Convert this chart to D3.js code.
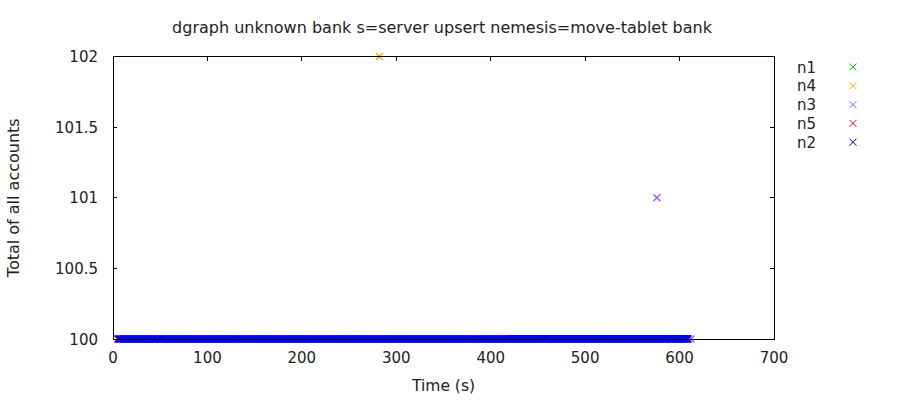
<!DOCTYPE html>
<html>
<head>
<meta charset="utf-8">
<script src="https://cdn.jsdelivr.net/npm/d3@7"></script>
<style>
  body { margin: 0; background: #fff; }
  text { font-family: "DejaVu Sans", sans-serif; fill: #222; }
</style>
</head>
<body>
<div id="chart"></div>
<script>
// series data: [time (s), total]
const n1Points = [[120, 100], [260, 100], [410, 100], [560, 100]];
const n4Points = [[282, 102], [90, 100], [330, 100], [470, 100]];
const n3Points = [[576, 101], [200, 100], [440, 100], [612, 100]];
const n5Times = [5, 18, 39, 43.5, 101, 146, 150, 172, 184.5, 222, 232, 262, 276, 373, 376, 493, 507, 510, 545];
// n2 reads roughly once per second, total always 100
const n2Times = [
  6, 7, 8, 9, 10, 11, 12, 13, 14, 15, 16, 17, 18, 19, 20, 21, 22, 23, 24, 25, 26, 27, 28, 29, 30, 31, 32, 33, 34, 35,
  36, 37, 38, 39, 40, 41, 42, 43, 44, 45, 46, 48, 49, 50, 51, 52, 53, 54, 55, 56, 57, 58, 59, 60, 61, 62, 63, 64, 65,
  66, 67, 68, 69, 70, 71, 72, 73, 74, 75, 76, 77, 78, 79, 80, 81, 82, 83, 84, 85, 86, 87, 88, 89, 90, 91, 92, 93, 94,
  95, 96, 97, 98, 99, 100, 102, 103, 104, 105, 106, 107, 108, 109, 110, 111, 112, 113, 114, 115, 116, 117, 118, 119,
  120, 121, 122, 123, 124, 125, 126, 127, 128, 129, 130, 131, 132, 134, 135, 136, 137, 138, 139, 140, 141, 142, 143,
  144, 145, 147, 148, 149, 151, 152, 153, 154, 155, 156, 157, 158, 159, 160, 161, 162, 163, 164, 165, 166, 167, 168,
  169, 170, 171, 173, 174, 175, 176, 177, 178, 179, 180, 181, 182, 183, 185, 186, 187, 188, 189, 190, 191, 192, 193,
  194, 195, 196, 197, 198, 199, 200, 201, 202, 203, 204, 205, 206, 207, 208, 209, 210, 211, 212, 213, 214, 215, 216,
  217, 219, 220, 221, 223, 224, 225, 226, 227, 228, 229, 230, 231, 233, 234, 235, 236, 237, 238, 239, 240, 241, 242,
  243, 244, 245, 246, 247, 248, 249, 250, 251, 252, 253, 254, 255, 256, 257, 258, 259, 260, 261, 263, 264, 265, 266,
  267, 268, 269, 270, 271, 272, 273, 274, 275, 277, 278, 279, 280, 281, 282, 283, 284, 285, 286, 287, 288, 289, 290,
  291, 292, 293, 294, 295, 296, 297, 298, 299, 300, 302, 303, 304, 305, 306, 307, 308, 309, 310, 311, 312, 313, 314,
  315, 316, 317, 318, 319, 320, 321, 322, 323, 324, 325, 326, 327, 328, 329, 330, 331, 332, 333, 334, 335, 336, 337,
  338, 339, 340, 341, 342, 343, 344, 345, 346, 347, 348, 349, 350, 351, 352, 353, 354, 355, 356, 357, 358, 359, 360,
  361, 362, 363, 364, 365, 366, 367, 368, 369, 370, 371, 372, 374, 375, 377, 378, 379, 380, 381, 382, 383, 384, 385,
  386, 387, 388, 390, 391, 392, 393, 394, 395, 396, 397, 398, 399, 400, 401, 402, 403, 404, 405, 406, 407, 408, 409,
  410, 411, 412, 413, 414, 415, 416, 417, 418, 419, 420, 421, 422, 423, 424, 425, 426, 427, 428, 429, 430, 431, 432,
  433, 434, 435, 436, 437, 438, 439, 440, 441, 442, 443, 444, 445, 446, 447, 448, 449, 450, 451, 452, 453, 454, 456,
  457, 458, 459, 460, 461, 462, 463, 464, 465, 466, 467, 468, 469, 470, 471, 472, 473, 474, 475, 476, 477, 478, 479,
  480, 481, 482, 483, 484, 485, 486, 487, 488, 489, 490, 491, 492, 494, 495, 496, 497, 498, 499, 500, 501, 502, 503,
  504, 505, 506, 508, 509, 511, 512, 513, 514, 515, 516, 517, 518, 519, 520, 522, 523, 524, 525, 526, 527, 528, 529,
  530, 531, 532, 533, 534, 535, 536, 537, 538, 539, 540, 541, 542, 543, 544, 546, 547, 548, 549, 550, 551, 552, 553,
  554, 555, 556, 557, 558, 559, 560, 561, 562, 563, 564, 565, 566, 567, 568, 569, 570, 571, 572, 573, 574, 575, 576,
  577, 578, 579, 580, 581, 582, 583, 584, 585, 586, 587, 589, 590, 591, 592, 593, 594, 595, 596, 597, 598, 599, 600,
  601, 602, 603, 604, 605, 606, 607, 608, 609
];
const xTicks = [0, 100, 200, 300, 400, 500, 600, 700];
const yTicks = [100, 100.5, 101, 101.5, 102];

const series = [
  { name: 'n1', color: '#00e000', points: n1Points },
  { name: 'n4', color: '#ffa500', points: n4Points },
  { name: 'n3', color: '#a050f0', points: n3Points },
  { name: 'n5', color: '#e00000', points: n5Times.map(t => [t, 100]) },
  { name: 'n2', color: '#0000ff', points: n2Times.map(t => [t, 100]) }
];

const width = 900, height = 400;
const margin = { top: 56.5, right: 126, bottom: 61, left: 113 };
const plotW = width - margin.left - margin.right;
const plotH = height - margin.top - margin.bottom;

const svg = d3.select('#chart').append('svg')
  .attr('width', width)
  .attr('height', height);

const x = d3.scaleLinear().domain([0, 700]).range([margin.left, margin.left + plotW]);
const y = d3.scaleLinear().domain([100, 102]).range([margin.top + plotH, margin.top]);

// title
svg.append('text')
  .attr('x', 442).attr('y', 33)
  .attr('text-anchor', 'middle')
  .style('font-size', '16px')
  .text('dgraph unknown bank s=server upsert nemesis=move-tablet bank');

// ticks (inward, mirrored like gnuplot)
const tickLen = 4;
const ticks = svg.append('g').attr('stroke', '#000').attr('shape-rendering', 'crispEdges');
xTicks.forEach(t => {
  ticks.append('line').attr('x1', x(t)).attr('x2', x(t)).attr('y1', y(100)).attr('y2', y(100) - tickLen);
  ticks.append('line').attr('x1', x(t)).attr('x2', x(t)).attr('y1', y(102)).attr('y2', y(102) + tickLen);
});
yTicks.forEach(t => {
  ticks.append('line').attr('x1', x(0)).attr('x2', x(0) + tickLen).attr('y1', y(t)).attr('y2', y(t));
  ticks.append('line').attr('x1', x(700)).attr('x2', x(700) - tickLen).attr('y1', y(t)).attr('y2', y(t));
});

// tick labels
svg.append('g').selectAll('text').data(xTicks).join('text')
  .attr('x', d => x(d)).attr('y', y(100) + 24)
  .attr('text-anchor', 'middle')
  .style('font-size', '15px')
  .text(d => d);

svg.append('g').selectAll('text').data(yTicks).join('text')
  .attr('x', x(0) - 15).attr('y', d => y(d) + 5.5)
  .attr('text-anchor', 'end')
  .style('font-size', '15px')
  .text(d => d);

// axis labels
svg.append('text')
  .attr('x', (x(0) + x(700)) / 2).attr('y', 391)
  .attr('text-anchor', 'middle')
  .style('font-size', '15.5px')
  .text('Time (s)');

svg.append('text')
  .attr('transform', `translate(19,${(y(100) + y(102)) / 2}) rotate(-90)`)
  .attr('text-anchor', 'middle')
  .style('font-size', '16px')
  .text('Total of all accounts');

// x marker path
const s = 3.5;
const cross = (px, py) => `M${px - s},${py - s}L${px + s},${py + s}M${px - s},${py + s}L${px + s},${py - s}`;

// points
series.forEach(sr => {
  svg.append('path')
    .attr('d', sr.points.map(p => cross(x(p[0]), y(p[1]))).join(''))
    .attr('fill', 'none')
    .attr('stroke', sr.color)
    .attr('stroke-width', 1.2);
});

// frame
svg.append('rect')
  .attr('x', x(0)).attr('y', y(102))
  .attr('width', plotW).attr('height', plotH)
  .attr('fill', 'none')
  .attr('stroke', '#000')
  .attr('shape-rendering', 'crispEdges');

// bottom border drawn over the points
svg.append('line')
  .attr('x1', x(0)).attr('x2', x(700))
  .attr('y1', y(100)).attr('y2', y(100))
  .attr('stroke', '#000')
  .attr('shape-rendering', 'crispEdges');

// legend
const legend = svg.append('g');
series.forEach((sr, i) => {
  const ly = 67 + i * 18.8;
  legend.append('text')
    .attr('x', 797).attr('y', ly + 5.5)
    .style('font-size', '15px')
    .text(sr.name);
  legend.append('path')
    .attr('d', cross(853, ly))
    .attr('fill', 'none')
    .attr('stroke', sr.color)
    .attr('stroke-width', 1);
});
</script>
</body>
</html>
